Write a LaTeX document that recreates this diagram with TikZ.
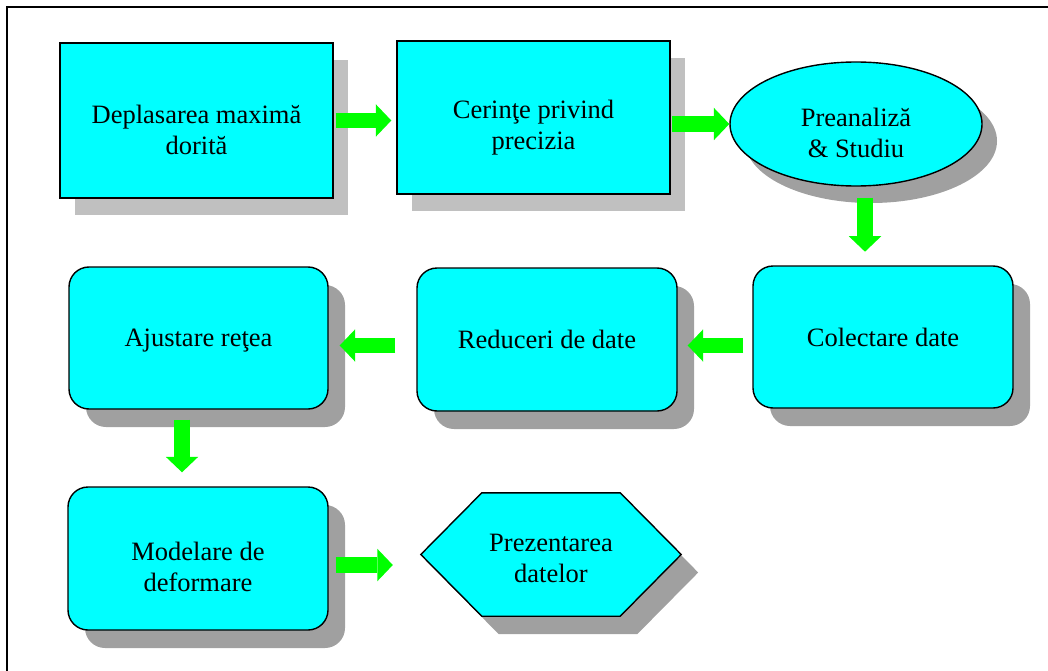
\documentclass[tikz,border=0pt]{standalone}
\usepackage{fontspec}
\setmainfont{Liberation Serif}
\usetikzlibrary{shadows,shapes.geometric,arrows.meta,calc}
\definecolor{boxcyan}{HTML}{00FFFF}
\definecolor{flowgreen}{HTML}{00FF00}
\definecolor{shadowlight}{HTML}{C0C0C0}
\definecolor{shadowdark}{HTML}{A0A0A0}
\begin{document}
\begin{tikzpicture}[x=1pt, y=-1pt,
  box/.style={draw=black, line width=1.4pt, fill=boxcyan, inner sep=0pt},
  plainbox/.style={box, rectangle,
    drop shadow={shadow xshift=15pt, shadow yshift=-17pt, fill=shadowlight, opacity=1}},
  roundbox/.style={box, rectangle, rounded corners=20pt,
    minimum width=260pt, minimum height=142pt,
    drop shadow={shadow xshift=17pt, shadow yshift=-18pt, fill=shadowdark, opacity=1}},
  ovalbox/.style={box, ellipse,
    drop shadow={shadow xshift=15pt, shadow yshift=-17pt, fill=shadowdark, opacity=1}},
  hexbox/.style={box,
    drop shadow={shadow xshift=17pt, shadow yshift=-18pt, fill=shadowdark, opacity=1}},
  txt/.style={font=\fontsize{26.5pt}{31pt}\selectfont, align=center, inner sep=0pt},
  flow/.style={draw=flowgreen, line width=15.5pt,
    -{Triangle[length=15.5pt, width=32.5pt, line width=0pt]}},
]
\useasboundingbox (0,0) rectangle (1048,671);

% frame
\draw[line width=2pt] (7,671) -- (7,7) -- (1048,7);

% first row
\node[plainbox, minimum width=273pt, minimum height=155pt,
  label={[txt, yshift=-9pt]center:Deplasarea maximă\\dorită}] (dep) at (196.5,120.5) {};
\node[plainbox, minimum width=273pt, minimum height=153pt,
  label={[txt, yshift=-10pt]center:Cerinţe privind\\precizia}] (cer) at (533.5,117.5) {};
\node[ovalbox, minimum width=252pt, minimum height=124pt,
  label={[txt, yshift=-9pt]center:Preanaliză\\\& Studiu}] (pre) at (856,124) {};

% second row
\node[roundbox, label={[txt]center:Colectare date}] (col) at (883,337) {};
\node[roundbox, minimum height=143pt, label={[txt]center:Reduceri de date}] (red) at (547,339.5) {};
\node[roundbox, minimum width=259pt, label={[txt, yshift=-3pt]center:Ajustare reţea}] (aju) at (198.5,338) {};

% third row
\node[roundbox, minimum height=143pt,
  label={[txt, yshift=-8.5pt]center:Modelare de\\deformare}] (mod) at (198,558.5) {};
\node[minimum width=260pt, minimum height=123pt, inner sep=0pt] (hex) at (551,554.5) {};
\filldraw[hexbox] (hex.west) -- ([xshift=61pt]hex.north west) -- ([xshift=-61pt]hex.north east)
  -- (hex.east) -- ([xshift=-61pt]hex.south east) -- ([xshift=61pt]hex.south west) -- cycle;
\node[txt] (hextext) at ($(hex.center)+(0,4.4)$) {Prezentarea\\datelor};

% flow arrows
\draw[flow] ($(dep.east)+(2,0)$) -- ($(cer.west |- dep.east)+(-5,0)$);
\draw[flow] ($(pre.west)+(-57,0)$) -- (pre.west);
\draw[flow] ($(pre.south)+(9,11)$) -- ($(pre.south)+(9,65)$);
\draw[flow] ($(col.west)+(-9,8.5)$) -- ($(red.east)+(10,6)$);
\draw[flow] ($(red.west)+(-21,6)$) -- ($(aju.east)+(11,7.5)$);
\draw[flow] ($(aju.south)+(-16.5,10)$) -- ($(mod.north)+(-16,-14)$);
\draw[flow] ($(mod.east)+(7,6.5)$) -- ($(hex.west)+(-28,10.5)$);
\end{tikzpicture}
\end{document}
